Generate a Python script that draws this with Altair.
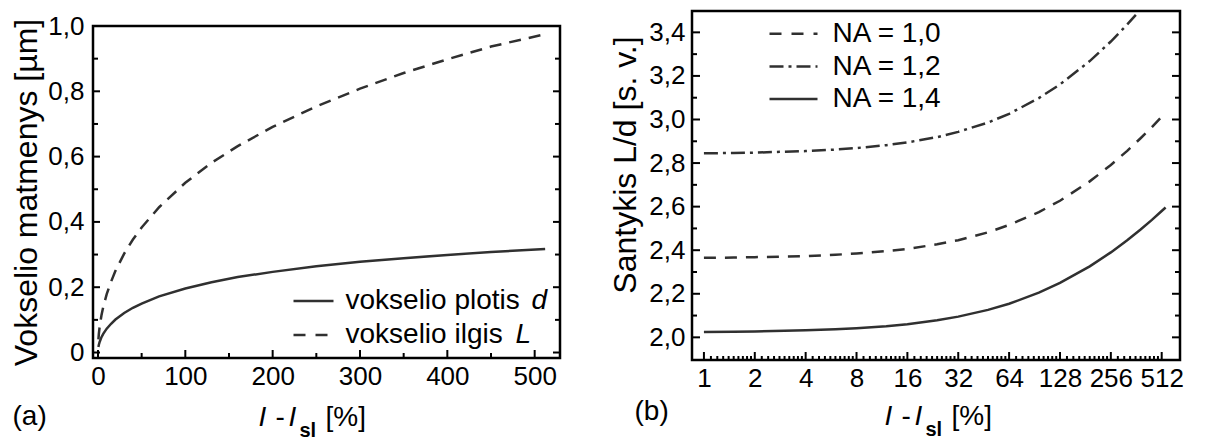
import altair as alt
import pandas as pd

FONT = "Liberation Sans"
LINE = "#303030"

# ---------------- panel (a) data ----------------
a_x = [0.5, 1, 2, 4, 6, 10, 15, 20, 30, 40, 50, 70, 100, 130, 160, 200, 250, 300, 350, 400, 450, 512]
a_d = [0.017, 0.024, 0.033, 0.047, 0.057, 0.073, 0.088, 0.101, 0.121, 0.137, 0.150, 0.172,
       0.196, 0.215, 0.231, 0.247, 0.264, 0.278, 0.289, 0.299, 0.308, 0.317]
a_L = [0.040, 0.057, 0.081, 0.114, 0.139, 0.179, 0.217, 0.250, 0.303, 0.346, 0.383, 0.445,
       0.520, 0.581, 0.632, 0.691, 0.754, 0.808, 0.856, 0.898, 0.937, 0.975]
a_xticks_major = [0, 100, 200, 300, 400, 500]
a_xticks_minor = [50, 150, 250, 350, 450]
a_yticks_major = [0, 0.2, 0.4, 0.6, 0.8, 1.0]
a_yticks_minor = [0.1, 0.3, 0.5, 0.7, 0.9]

# ---------------- panel (b) data ----------------
b_x10 = [1, 1.5, 2, 3, 4, 6, 8, 12, 16, 24, 32, 48, 64, 96, 128, 192, 256, 320, 384, 448, 512]
na10 = [2.365, 2.366, 2.368, 2.371, 2.373, 2.379, 2.385, 2.396, 2.406, 2.427, 2.446, 2.482,
        2.516, 2.575, 2.627, 2.716, 2.791, 2.856, 2.914, 2.965, 3.013]
b_x12 = [1, 1.5, 2, 3, 4, 6, 8, 12, 16, 24, 32, 48, 64, 96, 128, 192, 256, 320, 360]
na12 = [2.845, 2.846, 2.848, 2.852, 2.855, 2.862, 2.869, 2.882, 2.895, 2.919, 2.943, 2.986,
        3.026, 3.098, 3.161, 3.268, 3.358, 3.436, 3.480]
b_x14 = [1, 1.5, 2, 3, 4, 6, 8, 12, 16, 24, 32, 48, 64, 96, 128, 192, 256, 320, 384, 448, 512, 540]
na14 = [2.025, 2.026, 2.027, 2.030, 2.032, 2.037, 2.042, 2.051, 2.060, 2.078, 2.095, 2.126,
        2.154, 2.205, 2.250, 2.326, 2.390, 2.446, 2.495, 2.539, 2.580, 2.596]
b_xticks_major = [1, 2, 4, 8, 16, 32, 64, 128, 256, 512]
b_minor_mult = [1.1, 1.2, 1.3, 1.4, 1.5, 1.6, 1.7, 1.8, 1.9]
b_xticks_minor = [m * b for b in b_xticks_major[:-1] for m in b_minor_mult]
b_yticks_major = [2.0, 2.2, 2.4, 2.6, 2.8, 3.0, 3.2, 3.4]
b_yticks_minor = [2.1, 2.3, 2.5, 2.7, 2.9, 3.1, 3.3]

WA, HA = 467, 332
WB, HB = 488, 349

ONE = pd.DataFrame({"o": [0]})

xsA = alt.Scale(domain=[-5.7, 529], nice=False, zero=False)
ysA = alt.Scale(domain=[-0.0168, 1.0], nice=False, zero=False)
xsB = alt.Scale(type="log", base=2, domain=[0.85, 657], nice=False)
ysB = alt.Scale(domain=[1.896, 3.498], nice=False, zero=False)

comma_expr = "datum.value == 0 ? '0' : replace(format(datum.value, '.1f'), '.', ',')"

AX = dict(labelFont=FONT, labelFontSize=26, labelColor="black", grid=False, domain=False,
          ticks=False, titleFont=FONT, titleFontSize=32, titleFontWeight="normal",
          titleColor="black")

axA_x = alt.Axis(values=a_xticks_major, format="d", labelPadding=5, title=None, **AX)
axA_y = alt.Axis(values=a_yticks_major, labelExpr=comma_expr, labelPadding=9,
                 title="Vokselio matmenys [µm]", titleX=-57, titleBaseline="alphabetic", **AX)
axB_x = alt.Axis(values=b_xticks_major, format="d", labelPadding=5, title=None, **AX)
axB_y = alt.Axis(values=b_yticks_major, labelExpr=comma_expr, labelPadding=7,
                 title="Santykis L/d [s. v.]", titleX=-57, titleY=153.5,
                 titleBaseline="alphabetic", **AX)


def txt(s, x, y, size=28, style="normal", weight="normal", align="left", baseline="alphabetic"):
    return alt.Chart(ONE).mark_text(
        text=s, font=FONT, fontSize=size, fontStyle=style, fontWeight=weight,
        align=align, baseline=baseline, color="black"
    ).encode(x=alt.value(x), y=alt.value(y))


def xticks(vals, scale, axis, h, length):
    df = pd.DataFrame({"v": vals})
    return alt.Chart(df).mark_rule(color="black", strokeWidth=2).encode(
        x=alt.X("v:Q", scale=scale, axis=axis), y=alt.value(h), y2=alt.value(h - length))


def yticks(vals, scale, axis, x0, x1):
    df = pd.DataFrame({"v": vals})
    return alt.Chart(df).mark_rule(color="black", strokeWidth=2).encode(
        y=alt.Y("v:Q", scale=scale, axis=axis), x=alt.value(x0), x2=alt.value(x1))


def legend_line(x0, x1, y, dash):
    kw = {"strokeDash": dash} if dash else {}
    return alt.Chart(ONE).mark_rule(color=LINE, strokeWidth=2.5, **kw).encode(
        x=alt.value(x0), x2=alt.value(x1), y=alt.value(y))


# ---------------- panel (a) ----------------
dfA = pd.DataFrame({"x": a_x, "d": a_d, "L": a_L})
lineA_d = alt.Chart(dfA).mark_line(color=LINE, strokeWidth=2.5).encode(
    x=alt.X("x:Q", scale=xsA, axis=axA_x),
    y=alt.Y("d:Q", scale=ysA, axis=axA_y),
)
lineA_L = alt.Chart(dfA).mark_line(color=LINE, strokeWidth=2.5, strokeDash=[12, 8]).encode(
    x=alt.X("x:Q", scale=xsA, axis=axA_x),
    y=alt.Y("L:Q", scale=ysA, axis=axA_y),
)

panelA = alt.layer(
    lineA_d, lineA_L,
    xticks(a_xticks_major, xsA, axA_x, HA, 8), xticks(a_xticks_minor, xsA, axA_x, HA, 5),
    yticks(a_yticks_major, ysA, axA_y, 0, 7), yticks(a_yticks_minor, ysA, axA_y, 0, 5),
    yticks(a_yticks_major, ysA, axA_y, WA, WA - 7), yticks(a_yticks_minor, ysA, axA_y, WA, WA - 5),
    legend_line(200.5, 240.5, 275, None),
    legend_line(200.5, 240.5, 309, [12, 10]),
    txt("vokselio plotis", 252.5, 275, baseline="middle"),
    txt("d", 438.5, 275, style="italic", baseline="middle"),
    txt("vokselio ilgis", 252.5, 309, baseline="middle"),
    txt("L", 422.5, 309, style="italic", baseline="middle"),
    txt("I", 165.5, 400, style="italic"),
    txt("-", 182.5, 400),
    txt("I", 195.5, 400, style="italic"),
    txt("sl", 206.5, 411, size=20, weight="bold"),
    txt("[%]", 232.5, 400),
    txt("(a)", -80.5, 399),
).properties(width=WA, height=HA)

# near-zero-height invisible spacer (height 0 would fall back to the default)
spacer = alt.Chart(ONE).mark_point(opacity=0, size=1).encode(
    x=alt.value(0), y=alt.value(0)
).properties(width=WA, height=0.01, view=alt.ViewBackground(stroke="transparent"))

leftCell = alt.vconcat(spacer, panelA, spacing=-2)

# ---------------- panel (b) ----------------
df10 = pd.DataFrame({"x": b_x10, "y": na10})
df12 = pd.DataFrame({"x": b_x12, "y": na12})
df14 = pd.DataFrame({"x": b_x14, "y": na14})

lineB14 = alt.Chart(df14).mark_line(color=LINE, strokeWidth=2.5).encode(
    x=alt.X("x:Q", scale=xsB, axis=axB_x), y=alt.Y("y:Q", scale=ysB, axis=axB_y))
lineB10 = alt.Chart(df10).mark_line(color=LINE, strokeWidth=2.5, strokeDash=[12, 9]).encode(
    x=alt.X("x:Q", scale=xsB, axis=axB_x), y=alt.Y("y:Q", scale=ysB, axis=axB_y))
lineB12 = alt.Chart(df12).mark_line(color=LINE, strokeWidth=2.5, strokeDash=[14, 5, 3, 5]).encode(
    x=alt.X("x:Q", scale=xsB, axis=axB_x), y=alt.Y("y:Q", scale=ysB, axis=axB_y))

panelB = alt.layer(
    lineB14, lineB10, lineB12,
    xticks(b_xticks_major, xsB, axB_x, HB, 8), xticks(b_xticks_minor, xsB, axB_x, HB, 4),
    yticks(b_yticks_major, ysB, axB_y, 0, 8), yticks(b_yticks_minor, ysB, axB_y, 0, 5),
    yticks(b_yticks_major, ysB, axB_y, WB, WB - 8), yticks(b_yticks_minor, ysB, axB_y, WB, WB - 5),
    legend_line(77.5, 125.5, 22.7, [12, 10]),
    legend_line(77.5, 125.5, 55.5, [14, 5, 3, 5]),
    legend_line(77.5, 125.5, 88, None),
    txt("NA = 1,0", 140.5, 22.7, baseline="middle"),
    txt("NA = 1,2", 140.5, 55.5, baseline="middle"),
    txt("NA = 1,4", 140.5, 88, baseline="middle"),
    txt("I", 192.5, 414, style="italic"),
    txt("-", 209.5, 414),
    txt("I", 222.5, 414, style="italic"),
    txt("sl", 233.5, 425, size=20, weight="bold"),
    txt("[%]", 259.5, 414),
    txt("(b)", -57.5, 409),
).properties(width=WB, height=HB)

chart = alt.hconcat(leftCell, panelB, spacing=44).properties(
    padding={"left": 0, "top": 0, "right": 0, "bottom": 0}
).configure_view(
    stroke="black", strokeWidth=2.5
)

chart.save("out.html", embed_options={"renderer": "svg", "actions": False})
